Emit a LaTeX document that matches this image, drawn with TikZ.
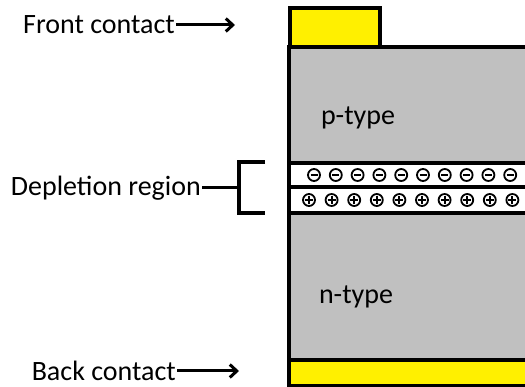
\documentclass[tikz,border=0pt]{standalone}
\usepackage{fontspec}
\setmainfont{Carlito}
\usetikzlibrary{arrows.meta}
\definecolor{contactyellow}{RGB}{255,240,0}
\definecolor{layergray}{RGB}{192,192,192}

\tikzset{
  layer/.style={draw=black,line width=3.4pt},
  label/.style={inner sep=1pt,font=\fontsize{28}{32}\selectfont},
  pointer/.style={-{Straight Barb[length=7pt,width=13pt,line width=3pt]},line width=3pt},
  charge/.style={draw=black,line width=1.8pt,fill=white},
}

\begin{document}
\begin{tikzpicture}[x=1pt,y=-1pt]
        \useasboundingbox (0,0) rectangle (525,387);
        \clip (0,0) rectangle (525,387);

        % 層
        \filldraw[layer,fill=layergray] (289,47) rectangle (540,163);
        \filldraw[layer,fill=white] (289,163) rectangle (540,187);
        \filldraw[layer,fill=white] (289,187) rectangle (540,213);
        \filldraw[layer,fill=layergray] (289,213) rectangle (540,360);

        % --- 電極 ---
        \filldraw[layer,fill=contactyellow] (290,8) rectangle (380,47);
        \filldraw[layer,fill=contactyellow] (289,360) rectangle (540,386);

        % --- 空乏層の電荷 ---
        \foreach \i in {0,...,9}{
          \draw[charge] (314+21.8*\i,175) circle (6);
          \draw[line width=1.9pt] (310.5+21.8*\i,175)--(317.5+21.8*\i,175);
        }
        \foreach \i in {0,...,9}{
          \draw[charge] (309+22.6*\i,200) circle (6);
          \draw[line width=1.9pt] (305+22.6*\i,200)--(313+22.6*\i,200);
          \draw[line width=1.9pt] (309+22.6*\i,196)--(309+22.6*\i,204);
        }

        % ラベル
        \node[label] (ptype) at (358,118) {p-type};
        \node[label] (ntype) at (356,297) {n-type};

        \node[label,anchor=east] (front) at (176,25) {Front contact};
        \coordinate (fronttip) at (235,25);
        \draw[pointer] (front.east)--(fronttip);

        \node[label,anchor=east] (back) at (177,371) {Back contact};
        \coordinate (backtip) at (239,371);
        \draw[pointer] (back.east)--(backtip);

        \node[label,anchor=east] (depl) at (202,188) {Depletion region};
        \coordinate (bracket) at (239,188);
        \draw[line width=3pt] (depl.east)--(bracket);
        \draw[line width=3.4pt] (265,162)--(239,162)--(239,213)--(265,213);
      \end{tikzpicture}
\end{document}
